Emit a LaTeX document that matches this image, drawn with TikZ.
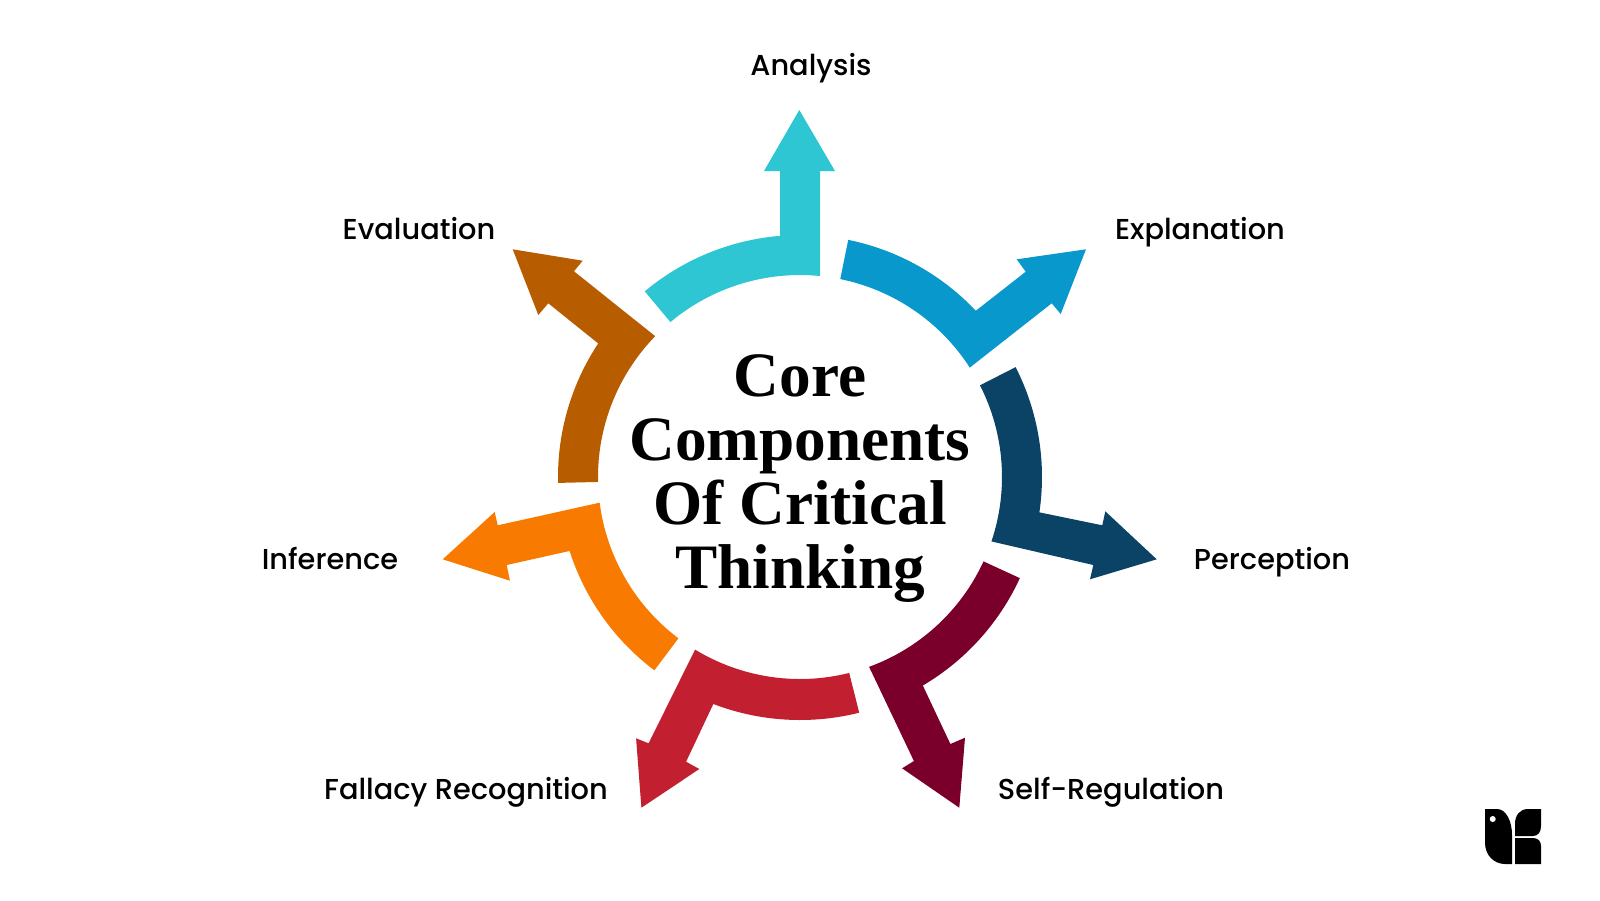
\documentclass[tikz,border=0pt]{standalone}
\usepackage{fontspec}
\setmainfont{Liberation Serif}
\newfontfamily\labelfont{Poppins Medium}
\usetikzlibrary{positioning}
\definecolor{analysiscol}{HTML}{2DC6D2}
\definecolor{explaincol}{HTML}{0998CC}
\definecolor{perceptcol}{HTML}{0A4366}
\definecolor{selfregcol}{HTML}{7A002B}
\definecolor{fallacycol}{HTML}{C21F30}
\definecolor{inferencecol}{HTML}{F97A00}
\definecolor{evalcol}{HTML}{B85C00}
\tikzset{
	itemlabel/.style={font=\labelfont\fontsize{8.2}{10}\selectfont, anchor=base, text=black, inner sep=0pt},
	titlelabel/.style={font=\bfseries\fontsize{18}{18.25}\selectfont, align=center, text=black, inner sep=0pt},
}
\begin{document}
\begin{tikzpicture}
		\useasboundingbox (-8,-4.23) rectangle (8,4.77);
		
		% Analysis
		\fill[analysiscol] (129.9:2.42) arc[start angle=129.9,end angle=94.7,radius=2.42]
			-- (-0.2,3.06) -- (-0.36,3.06) -- (-0.007,3.67) -- (0.35,3.06) -- (0.2,3.06)
			-- (84.3:2.02) arc[start angle=84.3,end angle=129.9,radius=2.02] -- cycle;
		
		% Explanation
		\fill[explaincol] (78.5:2.42) arc[start angle=78.5,end angle=43.4,radius=2.42]
			-- (2.257,2.053) -- (2.167,2.177) -- (2.86,2.277) -- (2.607,1.63) -- (2.517,1.737)
			-- (32.8:2.02) arc[start angle=32.8,end angle=78.5,radius=2.02] -- cycle;
		
		% Perception
		\fill[perceptcol] (27:2.42) arc[start angle=27,end angle=-8.4,radius=2.42]
			-- (3.023,-0.483) -- (3.053,-0.343) -- (3.567,-0.823) -- (2.9,-1.023) -- (2.933,-0.88)
			-- (-18.6:2.02) arc[start angle=-18.6,end angle=27,radius=2.02] -- cycle;
		
		% Self-Regulation
		\fill[selfregcol] (-24.7:2.42) arc[start angle=-24.7,end angle=-59.5,radius=2.42]
			-- (1.504,-2.67) -- (1.65,-2.607) -- (1.593,-3.307) -- (1.021,-2.913) -- (1.139,-2.84)
			-- (-70:2.02) arc[start angle=-70,end angle=-24.7,radius=2.02] -- cycle;
		
		% Fallacy Recognition
		\fill[fallacycol] (-75.9:2.43) arc[start angle=-75.9,end angle=-110.9,radius=2.43]
			-- (-1.139,-2.847) -- (-1.007,-2.92) -- (-1.586,-3.307) -- (-1.639,-2.613) -- (-1.514,-2.663)
			-- (-121.3:2.02) arc[start angle=-121.3,end angle=-75.9,radius=2.02] -- cycle;
		
		% Inference
		\fill[inferencecol] (233:2.42) arc[start angle=233,end angle=197.8,radius=2.42]
			-- (-2.933,-0.88) -- (-2.9,-1.037) -- (-3.573,-0.823) -- (-3.053,-0.35) -- (-3.023,-0.483)
			-- (187.3:2.02) arc[start angle=187.3,end angle=233,radius=2.02] -- cycle;
		
		% Evaluation
		\fill[evalcol] (181.4:2.42) arc[start angle=181.4,end angle=146.5,radius=2.42]
			-- (-2.517,1.737) -- (-2.617,1.62) -- (-2.873,2.277) -- (-2.173,2.163) -- (-2.26,2.057)
			-- (135.8:2.02) arc[start angle=135.8,end angle=181.4,radius=2.02] -- cycle;
		
		% Centre title
		\node[titlelabel] (title) at (0,-0.015) {Core\\Components\\Of Critical\\Thinking};
		
		% Labels
		\node[itemlabel] (analysis) at (0.11,4.015) {Analysis};
		\node[itemlabel] (explanation) at (4,2.38) {Explanation};
		\node[itemlabel] (perception) at (4.72,-0.92) {Perception};
		\node[itemlabel] (selfreg) at (3.11,-3.22) {Self-Regulation};
		\node[itemlabel] (fallacy) at (-3.34,-3.22) {Fallacy Recognition};
		\node[itemlabel] (inference) at (-4.7,-0.92) {Inference};
		\node[itemlabel] (evaluation) at (-3.81,2.38) {Evaluation};
		
		% Logo
		\fill[black] (6.85,-3.32) -- (6.97,-3.32) .. controls (7.06,-3.32) and (7.12,-3.44) .. (7.12,-3.58)
			-- (7.12,-3.87) -- (7.05,-3.87) .. controls (6.94,-3.87) and (6.85,-3.78) .. (6.85,-3.66) -- cycle;
		\fill[white] (6.927,-3.42) circle (0.03);
		\fill[black] (7.41,-3.32) -- (7.41,-3.49) .. controls (7.41,-3.55) and (7.38,-3.59) .. (7.33,-3.59)
			-- (7.15,-3.59) -- (7.15,-3.47) .. controls (7.15,-3.38) and (7.2,-3.32) .. (7.28,-3.32) -- cycle;
		\fill[black] (7.15,-3.61) -- (7.33,-3.61) .. controls (7.38,-3.61) and (7.41,-3.64) .. (7.41,-3.69)
			-- (7.41,-3.87) -- (7.15,-3.87) -- cycle;
	\end{tikzpicture}
\end{document}
